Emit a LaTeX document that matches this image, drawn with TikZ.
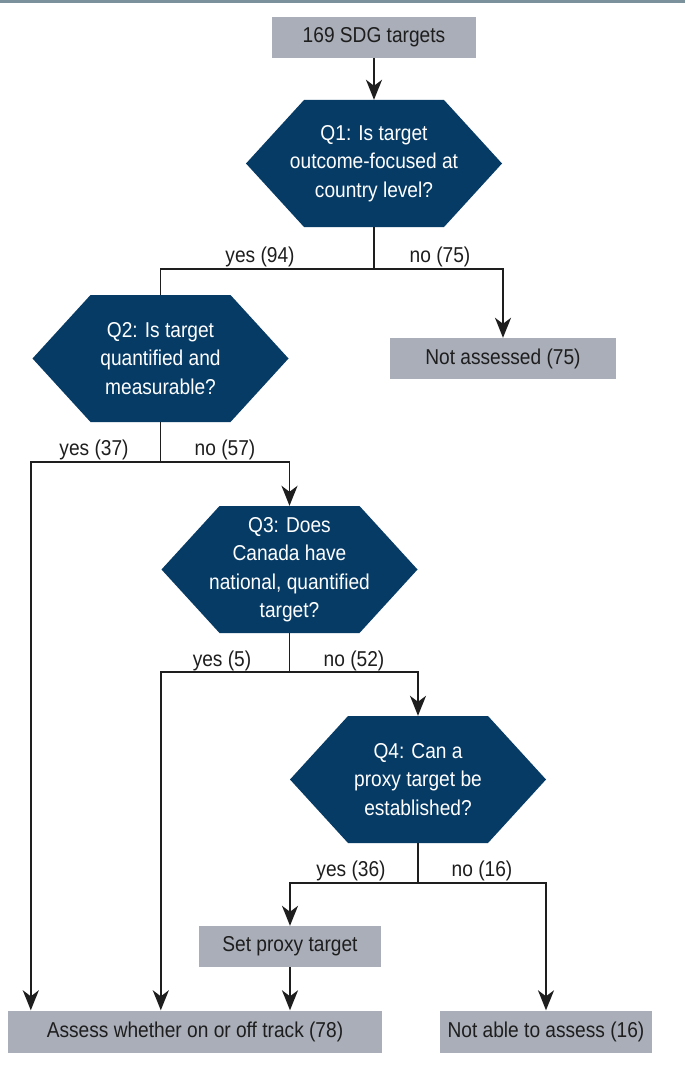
\documentclass[tikz,border=0pt]{standalone}
\usepackage{fontspec}
\setmainfont{Liberation Sans}[FakeStretch=0.89]
\usetikzlibrary{arrows.meta}

\definecolor{navy}{HTML}{063B66}
\definecolor{boxgray}{HTML}{A9AEB8}
\definecolor{topbar}{HTML}{7B919C}
\definecolor{ink}{HTML}{1E1E1E}

\tikzset{
  basefont/.style={font=\fontsize{21.5}{28.5}\selectfont},
  outbox/.style={basefont, fill=boxgray, text=ink, inner sep=0pt, minimum height=41pt},
  qtext/.style={basefont, text=white, align=center, inner sep=0pt},
  branchlabel/.style={basefont, text=ink, anchor=base, inner sep=0pt},
  link/.style={draw=ink, line width=1.8pt},
  arrowlink/.style={link, -{Stealth[length=20pt,width=16pt,inset=6pt]}},
}

% question hexagon: name, centre x, centre y, text
\newcommand{\question}[4]{%
  \fill[navy] (#2-128,#3) -- (#2-70,#3-63.5) -- (#2+70,#3-63.5) -- (#2+128,#3)
    -- (#2+70,#3+63.5) -- (#2-70,#3+63.5) -- cycle;
  \node[qtext, minimum width=256pt, minimum height=127pt] (#1) at (#2,#3) {#4};}

\begin{document}
\begin{tikzpicture}[x=1pt,y=-1pt]
  \fill[white] (0,0) rectangle (685,1078);
  \useasboundingbox (0,0) rectangle (685,1078);
  \fill[topbar] (0,0) rectangle (685,3.5);

  % outcome boxes
  \node[outbox, minimum width=204pt] (top) at (374,37.5) {169 SDG targets};
  \node[outbox, minimum width=226pt] (na) at (503,358.5) {Not assessed (75)};
  \node[outbox, minimum width=182pt] (sp) at (290,946.5) {Set proxy target};
  \node[outbox, minimum width=374pt, minimum height=42pt] (assess) at (195,1031.5) {Assess whether on or off track (78)};
  \node[outbox, minimum width=212pt, minimum height=42pt] (notable) at (546,1031.5) {Not able to assess (16)};

  % questions
  \question{q1}{374}{163.5}{Q1: Is target\\outcome-focused at\\country level?}
  \question{q2}{160.5}{358.5}{Q2: Is target\\quantified and\\measurable?}
  \question{q3}{289.5}{569.5}{Q3: Does\\Canada have\\national, quantified\\target?}
  \question{q4}{418}{779.5}{Q4: Can a\\proxy target be\\established?}

  % branch points
  \coordinate (j1) at (374,269);
  \coordinate (j2) at (160.5,462);
  \coordinate (j3) at (289.5,672);
  \coordinate (j4) at (418,883);

  % connectors
  \draw[arrowlink] (top.south) -- (q1.north);
  \draw[link] (q1.south) -- (j1);
  \draw[link] (j1) -| (q2.north);
  \draw[arrowlink] (j1) -| (na.north);
  \draw[link] (q2.south) -- (j2);
  \draw[arrowlink] (j2) -| ([xshift=23pt]assess.north west);
  \draw[arrowlink] (j2) -| (q3.north);
  \draw[link] (q3.south) -- (j3);
  \draw[arrowlink] (j3) -| ([xshift=153pt]assess.north west);
  \draw[arrowlink] (j3) -| (q4.north);
  \draw[link] (q4.south) -- (j4);
  \draw[arrowlink] (j4) -| (sp.north);
  \draw[arrowlink] (j4) -| (notable.north);
  \draw[arrowlink] (sp.south) -- (sp.south |- assess.north);

  % branch labels
  \node[branchlabel] (l1y) at (260,262) {yes (94)};
  \node[branchlabel] (l1n) at (440,262) {no (75)};
  \node[branchlabel] (l2y) at (94,455) {yes (37)};
  \node[branchlabel] (l2n) at (225,455) {no (57)};
  \node[branchlabel] (l3y) at (222,666) {yes (5)};
  \node[branchlabel] (l3n) at (354,666) {no (52)};
  \node[branchlabel] (l4y) at (351,876) {yes (36)};
  \node[branchlabel] (l4n) at (482,876) {no (16)};
\end{tikzpicture}
\end{document}
